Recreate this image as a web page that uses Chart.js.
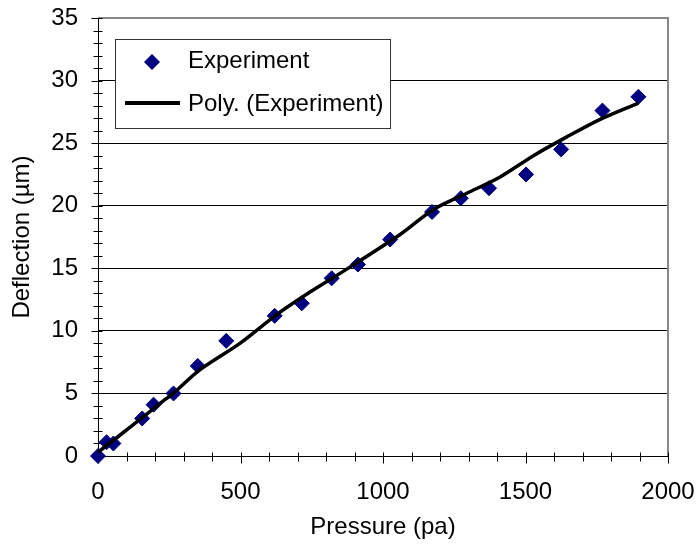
<!DOCTYPE html>
<html>
<head>
<meta charset="utf-8">
<script src="https://cdn.jsdelivr.net/npm/chart.js@4.4.0/dist/chart.umd.min.js"></script>
<style>
  html, body { margin: 0; padding: 0; background: #fff; }
  #wrap { width: 696px; height: 545px; }
</style>
</head>
<body>
<div id="wrap"><canvas id="chart"></canvas></div>
<script>
const pressure = [0, 30, 54, 155, 195, 265, 350, 450, 620, 715, 820, 912, 1025, 1172, 1273, 1372, 1502, 1625, 1770, 1896];
const deflection = [0, 1.1, 1.0, 3.0, 4.1, 5.0, 7.2, 9.2, 11.2, 12.2, 14.2, 15.3, 17.3, 19.5, 20.6, 21.4, 22.5, 24.5, 27.6, 28.7];

// polynomial trendline
const trendPressure = [0, 124, 229, 264, 358, 498, 627, 744, 843, 1060, 1177, 1294, 1411, 1528, 1645, 1762, 1896];
const trendDeflection = [0.3, 2.5, 4.4, 5.0, 6.9, 9.0, 11.3, 13.1, 14.5, 17.7, 19.7, 21.0, 22.3, 24.0, 25.5, 26.9, 28.2];

const xTicks = [0, 500, 1000, 1500, 2000];
const yTicks = [0, 5, 10, 15, 20, 25, 30, 35];

const seriesLabels = ["Experiment", "Poly. (Experiment)"];
const navy = "#000080";
const fontFamily = '"Liberation Sans", Arial, sans-serif';

function toPoints(xs, ys) {
    return xs.map((x, i) => ({ x: x, y: ys[i] }));
}

Chart.defaults.font.family = fontFamily;
Chart.defaults.font.size = 24;
Chart.defaults.color = "#000";

// axes, minor ticks and plot frame (under the data), legend box on top
const frame = {
    id: "frame",
    beforeDatasetsDraw(chart) {
        const { ctx, chartArea: a, scales: { x, y } } = chart;
        ctx.save();
        ctx.strokeStyle = "#888";
        ctx.lineWidth = 2;
        ctx.beginPath();
        ctx.moveTo(a.left, a.top);
        ctx.lineTo(a.right, a.top);
        ctx.lineTo(a.right, a.bottom);
        ctx.stroke();

        ctx.strokeStyle = "#000";
        ctx.lineWidth = 1;
        ctx.beginPath();
        const ax = Math.round(a.left) + 0.5;
        const ay = Math.round(a.bottom) + 0.5;
        ctx.moveTo(ax, a.top);
        ctx.lineTo(ax, ay);
        ctx.lineTo(a.right, ay);
        for (let v = 0; v <= 35; v++) {
            const py = Math.round(y.getPixelForValue(v)) + 0.5;
            ctx.moveTo(ax - (v % 5 === 0 ? 7 : 5), py);
            ctx.lineTo(ax + 4, py);
        }
        for (let v = 0; v <= 2000; v += 100) {
            const px = Math.round(x.getPixelForValue(v)) + 0.5;
            ctx.moveTo(px, ay - 4);
            ctx.lineTo(px, ay + (v % 500 === 0 ? 7 : 5));
        }
        ctx.stroke();
        ctx.restore();
    },
    afterDraw(chart) {
        const { ctx } = chart;
        const ds = chart.data.datasets;
        ctx.save();
        ctx.fillStyle = "#fff";
        ctx.fillRect(115, 39, 276, 90);
        ctx.strokeStyle = "#333";
        ctx.lineWidth = 1;
        ctx.strokeRect(115.5, 39.5, 275, 89);

        ctx.fillStyle = navy;
        ctx.beginPath();
        ctx.moveTo(152 - 8, 62);
        ctx.lineTo(152, 62 - 8);
        ctx.lineTo(152 + 8, 62);
        ctx.lineTo(152, 62 + 8);
        ctx.closePath();
        ctx.fill();

        ctx.strokeStyle = "#000";
        ctx.lineWidth = 4;
        ctx.beginPath();
        ctx.moveTo(125, 103);
        ctx.lineTo(180, 103);
        ctx.stroke();

        ctx.fillStyle = "#000";
        ctx.font = "24px " + fontFamily;
        ctx.textBaseline = "alphabetic";
        ctx.fillText(ds[0].label, 188, 68);
        ctx.fillText(ds[1].label, 188, 111);
        ctx.restore();
    }
};

new Chart(document.getElementById("chart"), {
    type: "scatter",
    data: {
        datasets: [
            {
                label: seriesLabels[0],
                data: toPoints(pressure, deflection),
                pointStyle: "rectRot",
                pointRadius: 7.5,
                pointBorderWidth: 1,
                backgroundColor: navy,
                borderColor: navy,
                clip: false,
                order: 2,
            },
            {
                label: seriesLabels[1],
                type: "line",
                data: toPoints(trendPressure, trendDeflection),
                showLine: true,
                pointRadius: 0,
                borderColor: "#000",
                borderWidth: 3.5,
                tension: 0.3,
                fill: false,
                clip: false,
                order: 1,
            },
        ],
    },
    options: {
        responsive: true,
        maintainAspectRatio: false,
        animation: false,
        layout: { padding: { top: 18, right: 28, left: 0, bottom: 0 } },
        plugins: {
            legend: { display: false },
            tooltip: { enabled: false },
        },
        scales: {
            x: {
                type: "linear",
                min: 0,
                max: 2000,
                afterBuildTicks: (s) => { s.ticks = xTicks.map((v) => ({ value: v })); },
                afterFit: (s) => { s.height = 89; s.paddingLeft = 0; s.paddingRight = 0; },
                grid: { display: false, drawTicks: false },
                border: { display: false },
                ticks: { padding: 22, maxRotation: 0, callback: (v) => String(v) },
                title: { display: true, text: "Pressure (pa)", padding: { top: 0, bottom: 3 } },
            },
            y: {
                type: "linear",
                min: 0,
                max: 35,
                afterBuildTicks: (s) => { s.ticks = yTicks.map((v) => ({ value: v })); },
                afterFit: (s) => { s.width = 98; s.paddingTop = 0; s.paddingBottom = 0; },
                grid: {
                    drawTicks: false,
                    color: (c) => (c.tick && (c.tick.value === 0 || c.tick.value === 35) ? "rgba(0,0,0,0)" : "#000"),
                    lineWidth: 1,
                },
                border: { display: false },
                ticks: { padding: 20, callback: (v) => String(v) },
                title: { display: true, text: "Deflection (µm)", padding: { top: 8, bottom: 0 } },
            },
        },
    },
    plugins: [frame],
});
</script>
</body>
</html>
